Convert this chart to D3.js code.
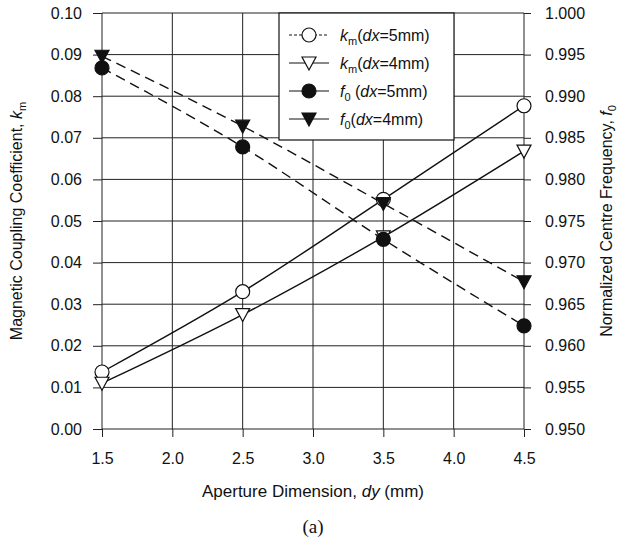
<!DOCTYPE html>
<html>
<head>
<meta charset="utf-8">
<script src="https://cdn.jsdelivr.net/npm/d3@7"></script>
<style>
  body { margin: 0; background: #fff; }
  text { font-family: "Liberation Sans", Arial, sans-serif; fill: #111; }
</style>
</head>
<body>
<svg width="636" height="542"></svg>
<script>
var dy = [1.5, 2.5, 3.5, 4.5];
var km5 = [0.0137, 0.0330, 0.0552, 0.0777];
var km4 = [0.0110, 0.0275, 0.0462, 0.0668];
var f05 = [0.9934, 0.9839, 0.9728, 0.9624];
var f04 = [0.9948, 0.9864, 0.9771, 0.9677];

var xTicks = [1.5, 2.0, 2.5, 3.0, 3.5, 4.0, 4.5];
var kmTicks = d3.range(0, 0.1001, 0.01);
var fTicks = d3.range(0.95, 1.0001, 0.005);

var svg = d3.select("svg");
var pLeft = 102, pRight = 524, pTop = 13, pBottom = 429;

var x = d3.scaleLinear().domain([1.5, 4.5]).range([pLeft, pRight]);
var yL = d3.scaleLinear().domain([0, 0.1]).range([pBottom, pTop]);
var yR = d3.scaleLinear().domain([0.95, 1.0]).range([pBottom, pTop]);

// grid
var grid = svg.append("g").attr("stroke", "#222").attr("stroke-width", 1);
grid.selectAll("line.h").data(kmTicks).enter().append("line")
  .attr("x1", pLeft).attr("x2", pRight)
  .attr("y1", function (d) { return yL(d); })
  .attr("y2", function (d) { return yL(d); });
grid.selectAll("line.v").data(xTicks).enter().append("line")
  .attr("y1", pTop).attr("y2", pBottom)
  .attr("x1", function (d) { return x(d); })
  .attr("x2", function (d) { return x(d); });

// axes
var axL = svg.append("g").attr("transform", "translate(" + pLeft + ",0)")
  .call(d3.axisLeft(yL).tickValues(kmTicks).tickFormat(d3.format(".2f")).tickSize(9).tickPadding(11));
var axR = svg.append("g").attr("transform", "translate(" + pRight + ",0)")
  .call(d3.axisRight(yR).tickValues(fTicks).tickFormat(d3.format(".3f")).tickSize(7).tickPadding(14));
var axB = svg.append("g").attr("transform", "translate(0," + pBottom + ")")
  .call(d3.axisBottom(x).tickValues(xTicks).tickFormat(d3.format(".1f")).tickSize(8).tickPadding(16));
[axL, axR, axB].forEach(function (a) {
  a.selectAll(".domain").remove();
  a.selectAll("line").attr("stroke", "#222");
  a.selectAll("text").attr("font-size", 16).attr("fill", "#111")
    .style("font-family", "'Liberation Sans', Arial, sans-serif");
});

// lines
var series = [
  { k: km5, axis: yL, dash: null },
  { k: km4, axis: yL, dash: null },
  { k: f05, axis: yR, dash: "10,6" },
  { k: f04, axis: yR, dash: "10,6" }
];
series.forEach(function (s) {
  var line = d3.line()
    .x(function (d, i) { return x(dy[i]); })
    .y(function (d) { return s.axis(d); })
    .curve(d3.curveMonotoneX);
  svg.append("path").datum(s.k)
    .attr("fill", "none").attr("stroke", "#111").attr("stroke-width", 1.4)
    .attr("stroke-dasharray", s.dash)
    .attr("d", line);
});

// markers
function tri(g, cx, cy, filled) {
  g.append("path")
    .attr("d", "M" + (cx - 7) + "," + (cy - 6) + "L" + (cx + 7) + "," + (cy - 6) + "L" + cx + "," + (cy + 7) + "Z")
    .attr("fill", filled ? "#111" : "#fff").attr("stroke", "#111").attr("stroke-width", 1.2);
}
function circ(g, cx, cy, filled) {
  g.append("circle").attr("cx", cx).attr("cy", cy).attr("r", 7)
    .attr("fill", filled ? "#111" : "#fff").attr("stroke", "#111").attr("stroke-width", 1.2);
}
var mk = svg.append("g");
dy.forEach(function (d, i) {
  circ(mk, x(d), yL(km5[i]), false);
  tri(mk, x(d), yL(km4[i]), false);
  circ(mk, x(d), yR(f05[i]), true);
  tri(mk, x(d), yR(f04[i]), true);
});

// legend
var lg = svg.append("g");
lg.append("rect").attr("x", 279).attr("y", pTop).attr("width", 175).attr("height", 127)
  .attr("fill", "#fff").attr("stroke", "#111").attr("stroke-width", 1.2);
var legItems = [
  { sub: "m", pre: "k", mid: "(", dx: "5mm", shape: circ, fill: false, dash: "3,2" },
  { sub: "m", pre: "k", mid: "(", dx: "4mm", shape: tri, fill: false, dash: null },
  { sub: "0", pre: "f", mid: " (", dx: "5mm", shape: circ, fill: true, dash: null },
  { sub: "0", pre: "f", mid: "(", dx: "4mm", shape: tri, fill: true, dash: null }
];
legItems.forEach(function (it, i) {
  var ly = 35 + i * 28;
  lg.append("line").attr("x1", 289).attr("x2", 329).attr("y1", ly).attr("y2", ly)
    .attr("stroke", "#111").attr("stroke-width", 1).attr("stroke-dasharray", it.dash);
  it.shape(lg, 309, ly, it.fill);
  var t = lg.append("text").attr("x", 340).attr("y", ly + 6).attr("font-size", 16);
  t.append("tspan").attr("font-style", "italic").text(it.pre);
  t.append("tspan").attr("font-size", 11).attr("dy", 4).text(it.sub);
  t.append("tspan").attr("dy", -4).text(it.mid);
  t.append("tspan").attr("font-style", "italic").text("dx");
  t.append("tspan").text("=" + it.dx + ")");
});

// axis titles
var tl = svg.append("text").attr("font-size", 16).attr("text-anchor", "middle")
  .attr("transform", "translate(22," + ((pTop + pBottom) / 2) + ") rotate(-90)");
tl.append("tspan").text("Magnetic Coupling Coefficient, ");
tl.append("tspan").attr("font-style", "italic").text("k");
tl.append("tspan").attr("font-size", 11).attr("dy", 4).text("m");

var tr = svg.append("text").attr("font-size", 16).attr("text-anchor", "middle")
  .attr("transform", "translate(612," + ((pTop + pBottom) / 2) + ") rotate(-90)");
tr.append("tspan").text("Normalized Centre Frequency, ");
tr.append("tspan").attr("font-style", "italic").text("f");
tr.append("tspan").attr("font-size", 11).attr("dy", 4).text("0");

var tb = svg.append("text").attr("font-size", 17).attr("text-anchor", "middle")
  .attr("x", (pLeft + pRight) / 2).attr("y", 497);
tb.append("tspan").text("Aperture Dimension, ");
tb.append("tspan").attr("font-style", "italic").text("dy");
tb.append("tspan").text(" (mm)");

svg.append("text").attr("x", (pLeft + pRight) / 2).attr("y", 533).attr("text-anchor", "middle")
  .attr("font-size", 19).style("font-family", "'Liberation Serif', 'Times New Roman', serif")
  .text("(a)");
</script>
</body>
</html>
